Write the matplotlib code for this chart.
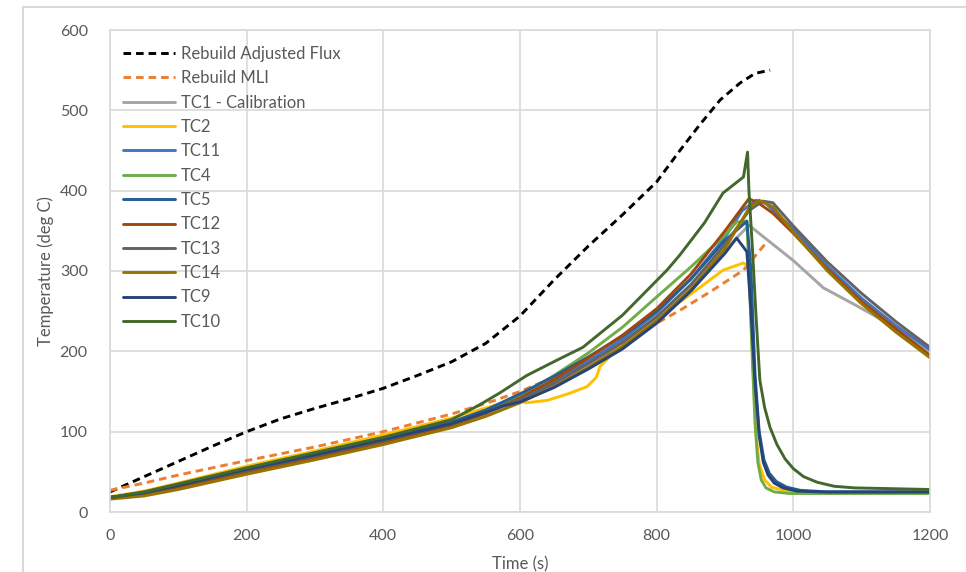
import matplotlib
matplotlib.use("Agg")
import matplotlib.pyplot as plt
from matplotlib.lines import Line2D

plt.rcParams['font.family'] = ['Lato', 'DejaVu Sans']

# ---- data ----------------------------------------------------------------
t_flux = [0, 50, 100, 150, 200, 250, 300, 350, 400, 450, 500, 550, 600, 650,
          700, 750, 800, 834, 863, 893, 922, 944, 966]
flux = [25, 44, 63, 82, 100, 116, 129, 141, 154, 170, 187, 210, 244, 289,
        331, 370, 411, 450, 482, 513, 534, 546, 550]

t_mli = [0, 50, 100, 200, 300, 400, 500, 560, 600, 650, 700, 750, 800, 834,
         880, 927, 962]
mli = [27, 36, 46, 64, 81, 100, 122, 138, 150, 168, 188, 210, 235, 251,
       275, 301, 337]

t_tc1 = [0, 50, 100, 200, 300, 400, 500, 550, 600, 650, 700, 750, 800, 850,
         900, 935, 960, 1000, 1044, 1090, 1130, 1200]
tc1 = [18, 23, 32, 51, 69, 88, 109, 122, 138, 158, 182, 208, 240, 280,
       326, 357, 340, 313, 279, 258, 239, 200]

t_tc2 = [0, 50, 100, 200, 300, 400, 500, 560, 590, 610, 640, 670, 698, 712,
         717, 750, 800, 835, 864, 897, 927, 935, 940, 945, 950, 958, 968,
         985, 1010, 1050, 1100, 1200]
tc2 = [19, 26, 36, 57, 76, 96, 117, 132, 140, 136, 139, 147, 156, 168,
       181, 210, 243, 262, 280, 301, 310, 305, 200, 100, 60, 40, 31,
       27, 25, 24, 24, 24]

t_tc11 = [0, 50, 100, 200, 300, 400, 500, 550, 600, 650, 700, 750, 800, 850,
          900, 925, 945, 960, 1000, 1050, 1100, 1150, 1200]
tc11 = [18, 25, 34, 54, 72, 91, 112, 126, 143, 163, 188, 215, 248, 290,
        342, 375, 388, 384, 352, 306, 266, 232, 202]

t_tc4 = [0, 50, 100, 200, 300, 400, 500, 550, 600, 650, 700, 750, 795, 850,
         900, 917, 932, 936, 940, 944, 948, 953, 960, 972, 995, 1050, 1200]
tc4 = [18, 24, 33, 53, 71, 90, 111, 126, 145, 170, 198, 230, 264, 305,
       345, 361, 362, 280, 190, 110, 62, 40, 30, 25, 23, 23, 23]

t_tc5 = [0, 50, 100, 200, 300, 400, 500, 550, 600, 650, 700, 750, 800, 850,
         900, 932, 938, 944, 950, 957, 965, 975, 990, 1010, 1050, 1200]
tc5 = [18, 24, 34, 54, 72, 91, 112, 127, 147, 169, 193, 219, 250, 290,
       338, 362, 300, 170, 100, 65, 48, 38, 31, 27, 25, 25]

t_tc12 = [0, 50, 100, 200, 300, 400, 500, 550, 600, 650, 700, 750, 800, 850,
          900, 935, 950, 970, 1000, 1050, 1100, 1150, 1200]
tc12 = [17, 22, 31, 50, 68, 87, 108, 123, 142, 165, 192, 220, 253, 296,
        350, 390, 384, 372, 347, 302, 262, 228, 195]

t_tc13 = [0, 50, 100, 200, 300, 400, 500, 550, 600, 650, 700, 750, 800, 850,
          900, 935, 955, 970, 1000, 1050, 1100, 1150, 1200]
tc13 = [18, 24, 33, 52, 70, 89, 110, 124, 140, 160, 185, 211, 243, 283,
        333, 375, 387, 385, 356, 311, 272, 237, 205]

t_tc14 = [0, 50, 100, 200, 300, 400, 500, 550, 600, 650, 700, 750, 800, 850,
          900, 935, 950, 970, 1000, 1050, 1100, 1150, 1200]
tc14 = [16, 20, 28, 47, 65, 84, 105, 119, 136, 156, 180, 206, 238, 277,
        328, 378, 388, 380, 348, 300, 259, 224, 192]

t_tc9 = [0, 50, 100, 200, 300, 400, 500, 550, 575, 600, 650, 700, 750, 800,
         850, 900, 917, 932, 938, 944, 950, 956, 963, 972, 985, 1005, 1040,
         1200]
tc9 = [18, 24, 33, 53, 71, 90, 110, 124, 132, 137, 155, 178, 203, 235,
       275, 322, 341, 324, 250, 160, 95, 62, 46, 36, 30, 26, 25, 25]

t_tc10 = [0, 50, 100, 200, 300, 400, 500, 540, 570, 610, 654, 692, 750, 815,
          834, 870, 897, 927, 933, 935, 940, 945, 951, 958, 966, 976, 988,
          1000, 1015, 1035, 1060, 1090, 1200]
tc10 = [18, 25, 35, 55, 74, 93, 115, 133, 148, 170, 189, 205, 245, 301,
        320, 360, 397, 417, 448, 400, 330, 250, 164, 130, 105, 84, 66,
        54, 44, 37, 32, 30, 28]

x_ticks = [0, 200, 400, 600, 800, 1000, 1200]
y_ticks = [0, 100, 200, 300, 400, 500, 600]

# ---- figure --------------------------------------------------------------
W, H = 966, 572
fig = plt.figure(figsize=(W / 100, H / 100), dpi=100)
ax = fig.add_axes([110 / W, 1 - 512 / H, 820 / W, 482 / H])

grid_c = '#D9D9D9'
text_c = '#595959'

series = [
    (t_flux, flux, 'Rebuild Adjusted Flux', '#000000', True),
    (t_mli, mli, 'Rebuild MLI', '#ED7D31', True),
    (t_tc1, tc1, 'TC1 - Calibration', '#A5A5A5', False),
    (t_tc2, tc2, 'TC2', '#FFC000', False),
    (t_tc11, tc11, 'TC11', '#4472C4', False),
    (t_tc4, tc4, 'TC4', '#70AD47', False),
    (t_tc5, tc5, 'TC5', '#255E91', False),
    (t_tc12, tc12, 'TC12', '#9E480E', False),
    (t_tc13, tc13, 'TC13', '#636363', False),
    (t_tc14, tc14, 'TC14', '#997300', False),
    (t_tc9, tc9, 'TC9', '#264478', False),
    (t_tc10, tc10, 'TC10', '#43682B', False),
]

for tt, vv, name, color, dashed in series:
    ls = (0, (2.6, 1.7)) if dashed else '-'
    ax.plot(tt, vv, color=color, lw=2.1, ls=ls, label=name,
            solid_capstyle='round', solid_joinstyle='round')

ax.set_xlim(0, 1200)
ax.set_ylim(0, 600)
ax.set_xticks(x_ticks)
ax.set_yticks(y_ticks)
ax.grid(True, color=grid_c, lw=1.2)
ax.set_axisbelow(True)
for sp in ax.spines.values():
    sp.set_color(grid_c)
    sp.set_linewidth(1.2)
ax.tick_params(length=0, labelsize=11.5, colors=text_c)
ax.tick_params(axis='x', pad=12)
ax.tick_params(axis='y', pad=16)

ax.set_xlabel('Time (s)', fontsize=12, color=text_c, labelpad=10)
ax.set_ylabel('Temperature (deg C)', fontsize=12, color=text_c, labelpad=4)

leg = ax.legend(loc='upper left', bbox_to_anchor=(123 / W, 1 - 46 / H),
                bbox_transform=fig.transFigure, frameon=False,
                fontsize=12, handlelength=3.1, handletextpad=0.36,
                labelspacing=0.5, borderpad=0, borderaxespad=0)
for txt in leg.get_texts():
    txt.set_color(text_c)

# chart-area border (top and left edges)
fig.add_artist(Line2D([23 / W, 1.0], [1 - 7 / H, 1 - 7 / H],
                      transform=fig.transFigure, color=grid_c, lw=1.5))
fig.add_artist(Line2D([23 / W, 23 / W], [0.0, 1 - 7 / H],
                      transform=fig.transFigure, color=grid_c, lw=1.5))

fig.savefig('out.png', dpi=100, facecolor='white')
